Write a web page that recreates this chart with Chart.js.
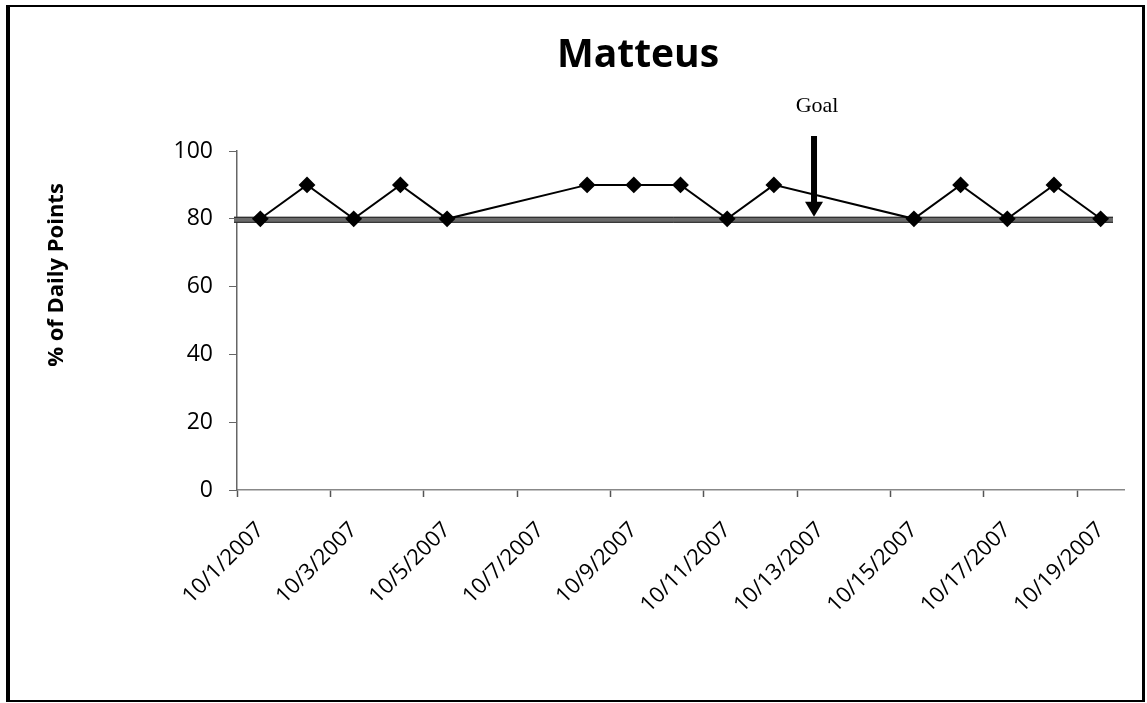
<!DOCTYPE html>
<html><head><meta charset="utf-8">
<script src="https://cdn.jsdelivr.net/npm/chart.js@4.4.0/dist/chart.umd.min.js"></script>
<style>html,body{margin:0;padding:0;background:#fff}#wrap{width:1147px;height:703px}</style>
</head><body><div id="wrap"><canvas id="c" width="1147" height="703"></canvas></div>
<script>
const categories = ['10/1/2007','10/2/2007','10/3/2007','10/4/2007','10/5/2007','10/6/2007','10/7/2007','10/8/2007','10/9/2007','10/10/2007','10/11/2007','10/12/2007','10/13/2007','10/14/2007','10/15/2007','10/16/2007','10/17/2007','10/18/2007','10/19/2007'];
const dailyPointsPct = [80,90,80,90,80,null,null,90,90,90,80,90,null,null,80,90,80,90,80];
const yTickValues = [0,20,40,60,80,100];
const goalValue = 80;
const goalLabel = 'Goal';
const goalArrowIndex = 11.86;
const chartTitle = 'Matteus';
const yAxisTitle = '% of Daily Points';

const decor = {
  id: 'decor',
  beforeDatasetsDraw(chart) {
    const {ctx, chartArea, scales} = chart;
    const y = scales.y.getPixelForValue(goalValue) + 1;
    ctx.save();
    ctx.strokeStyle = '#6a6a6a';
    ctx.lineWidth = 6;
    ctx.beginPath();
    ctx.moveTo(chartArea.left - 3, y);
    ctx.lineTo(chartArea.right - 11, y);
    ctx.stroke();
    ctx.strokeStyle = '#222';
    ctx.lineWidth = 1;
    ctx.beginPath();
    ctx.moveTo(chartArea.left - 3, y - 2.5); ctx.lineTo(chartArea.right - 11, y - 2.5);
    ctx.moveTo(chartArea.left - 3, y + 2.5); ctx.lineTo(chartArea.right - 11, y + 2.5);
    ctx.stroke();
    ctx.restore();
  },
  afterDraw(chart) {
    const {ctx, scales} = chart;
    ctx.save();
    ctx.fillStyle = '#000';
    ctx.font = 'bold 39px "Open Sans"';
    ctx.textAlign = 'center';
    ctx.textBaseline = 'alphabetic';
    ctx.fillText(chartTitle, 638, 67);
    ctx.save();
    ctx.translate(57, 275);
    ctx.rotate(-Math.PI / 2);
    ctx.font = 'bold 22px "Open Sans"';
    ctx.textAlign = 'center';
    ctx.textBaseline = 'middle';
    ctx.fillText(yAxisTitle, 0, 0);
    ctx.restore();
    const ax = scales.x.getPixelForValue(goalArrowIndex);
    const tipY = scales.y.getPixelForValue(goalValue) - 2;
    ctx.fillStyle = '#000';
    ctx.fillRect(ax - 3, 136, 6, tipY - 14 - 136);
    ctx.beginPath();
    ctx.moveTo(ax - 9, tipY - 15);
    ctx.lineTo(ax + 9, tipY - 15);
    ctx.lineTo(ax, tipY);
    ctx.closePath();
    ctx.fill();
    ctx.font = '22px "Liberation Serif"';
    ctx.textAlign = 'center';
    ctx.fillText(goalLabel, ax + 3, 112);
    ctx.strokeStyle = '#000';
    ctx.lineWidth = 4;
    ctx.beginPath(); ctx.moveTo(8, 5); ctx.lineTo(8, 702); ctx.stroke();
    ctx.lineWidth = 2;
    ctx.beginPath(); ctx.moveTo(6, 6); ctx.lineTo(1145, 6); ctx.stroke();
    ctx.lineWidth = 3;
    ctx.beginPath(); ctx.moveTo(1143.5, 5); ctx.lineTo(1143.5, 702); ctx.stroke();
    ctx.lineWidth = 2;
    ctx.beginPath(); ctx.moveTo(6, 701); ctx.lineTo(1145, 701); ctx.stroke();
    ctx.restore();
  }
};

new Chart(document.getElementById('c'), {
  type: 'line',
  data: {
    labels: categories,
    datasets: [{
      data: dailyPointsPct,
      borderColor: '#000',
      borderWidth: 2,
      pointStyle: 'rectRot',
      pointRadius: 7,
      pointBackgroundColor: '#000',
      pointBorderColor: '#000',
      spanGaps: true,
      tension: 0
    }]
  },
  options: {
    responsive: false,
    animation: false,
    devicePixelRatio: 1,
    layout: {padding: {left: 10, right: 23, top: 151, bottom: 0}},
    plugins: {legend: {display: false}, tooltip: {enabled: false}, title: {display: false}},
    scales: {
      x: {
        type: 'category',
        offset: true,
        grid: {
          display: true, drawOnChartArea: false, drawTicks: true, tickLength: 7, offset: true,
          tickColor: (c) => (c.index % 2 === 0 ? '#555' : 'rgba(0,0,0,0)'), tickWidth: 1.5
        },
        border: {display: true, color: '#888', width: 1.5},
        ticks: {
          autoSkip: false, maxRotation: 45, minRotation: 45, padding: 20, color: '#000',
          font: {family: '"Open Sans"', size: 22},
          callback: (v, i) => (i % 2 === 0 ? categories[i] : '')
        },
        afterFit: (s) => { s.height = 213; }
      },
      y: {
        min: 0, max: 100,
        afterBuildTicks: (s) => { s.ticks = yTickValues.map(v => ({value: v})); },
        grid: {display: true, drawOnChartArea: false, drawTicks: true, tickLength: 8, color: '#666', tickWidth: 1},
        border: {display: true, color: '#666', width: 1.5},
        ticks: {padding: 16, color: '#000', font: {family: '"Open Sans"', size: 23}},
        afterFit: (s) => { s.width = 227; }
      }
    }
  },
  plugins: [decor]
});
</script>
</body></html>
